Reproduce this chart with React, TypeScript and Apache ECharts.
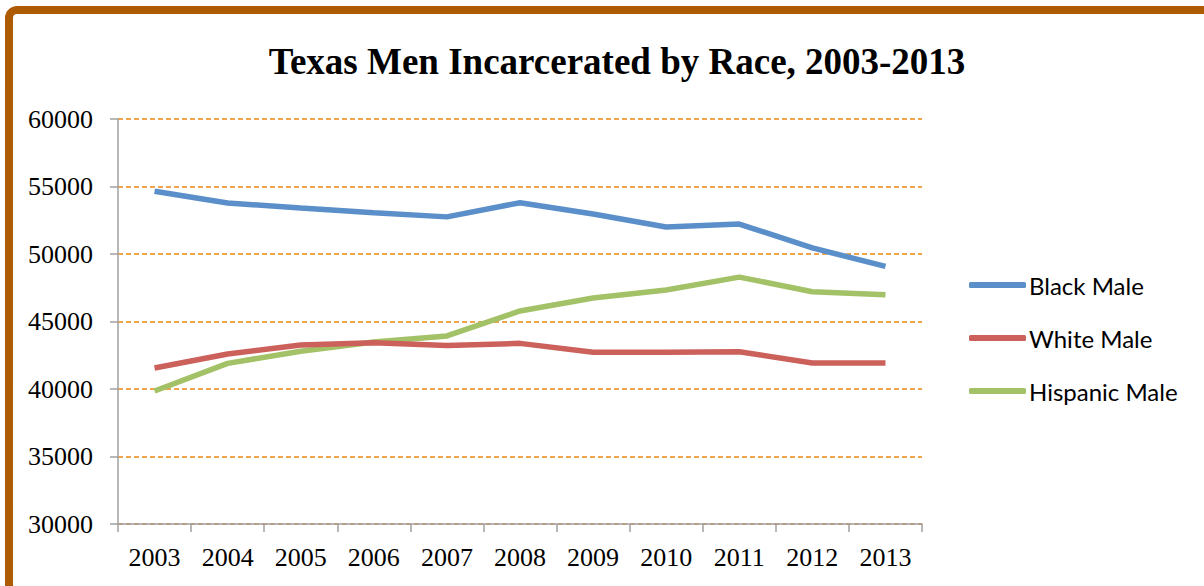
import React, { useEffect, useRef } from "react";
import * as echarts from "echarts";

const years = ["2003", "2004", "2005", "2006", "2007", "2008", "2009", "2010", "2011", "2012", "2013"];
const blackMale = [54650, 53780, 53410, 53050, 52750, 53800, 52960, 52000, 52220, 50450, 49080];
const whiteMale = [41550, 42590, 43260, 43430, 43220, 43380, 42730, 42730, 42760, 41920, 41920];
const hispanicMale = [39850, 41900, 42800, 43480, 43930, 45780, 46740, 47330, 48290, 47200, 46980];
const seriesNames = ["Black Male", "White Male", "Hispanic Male"];
const seriesColors = ["#5b8fc9", "#cc605a", "#a3c267"];

export default function App() {
  const ref = useRef<HTMLDivElement>(null);
  useEffect(() => {
    if (!ref.current) return;
    const chart = echarts.init(ref.current, null, { renderer: "svg" });
    const data = [blackMale, whiteMale, hispanicMale];
    chart.setOption({
      animation: false,
      backgroundColor: "#ffffff",
      title: {
        text: "Texas Men Incarcerated by Race, 2003-2013",
        left: 612,
        textAlign: "center",
        top: 38,
        textStyle: { fontFamily: "Liberation Serif", fontWeight: "bold", fontSize: 37, color: "#000" },
      },
      graphic: [
        {
          type: "rect",
          shape: { x: 9, y: 10, width: 1400, height: 800, r: 8 },
          style: { fill: "none", stroke: "#ad5c05", lineWidth: 8 },
          silent: true,
        },
      ],
      legend: {
        orient: "vertical",
        left: 964,
        top: 268,
        itemWidth: 57,
        itemHeight: 6,
        itemGap: 29,
        icon: "roundRect",
        data: seriesNames,
        textStyle: { fontFamily: "Lato", fontSize: 24, lineHeight: 24, color: "#000", padding: [0, 0, 0, -2] },
      },
      grid: { left: 118, right: 282, top: 119, bottom: 62 },
      xAxis: {
        type: "category",
        data: years,
        boundaryGap: true,
        axisLine: { lineStyle: { color: "#a0a0a0", width: 1.5 } },
        axisTick: { show: true, length: 8, lineStyle: { color: "#a0a0a0", width: 1.5 } },
        axisLabel: { fontFamily: "Liberation Serif", fontSize: 26, color: "#000", margin: 20 },
      },
      yAxis: {
        type: "value",
        min: 30000,
        max: 60000,
        interval: 5000,
        axisLine: { show: true, lineStyle: { color: "#a0a0a0", width: 1.5 } },
        axisTick: { show: true, length: 8, lineStyle: { color: "#a0a0a0", width: 1.5 } },
        axisLabel: {
          fontFamily: "Liberation Serif",
          fontSize: 26,
          color: "#000",
          margin: 25,
          formatter: (v: number) => String(v),
        },
        splitLine: { show: true, lineStyle: { color: "#f0850f", type: [5, 3], width: 1.5 } },
      },
      series: seriesNames.map((name, i) => ({
        name,
        type: "line",
        data: data[i],
        symbol: "none",
        color: seriesColors[i],
        lineStyle: { width: 5.5, color: seriesColors[i] },
        itemStyle: { color: seriesColors[i] },
        z: 3 - i,
      })),
    });
    return () => chart.dispose();
  }, []);
  return (
    <div style={{ position: "absolute", left: 0, top: 0 }}>
      <div ref={ref} style={{ width: 1204, height: 586 }} />
    </div>
  );
}
